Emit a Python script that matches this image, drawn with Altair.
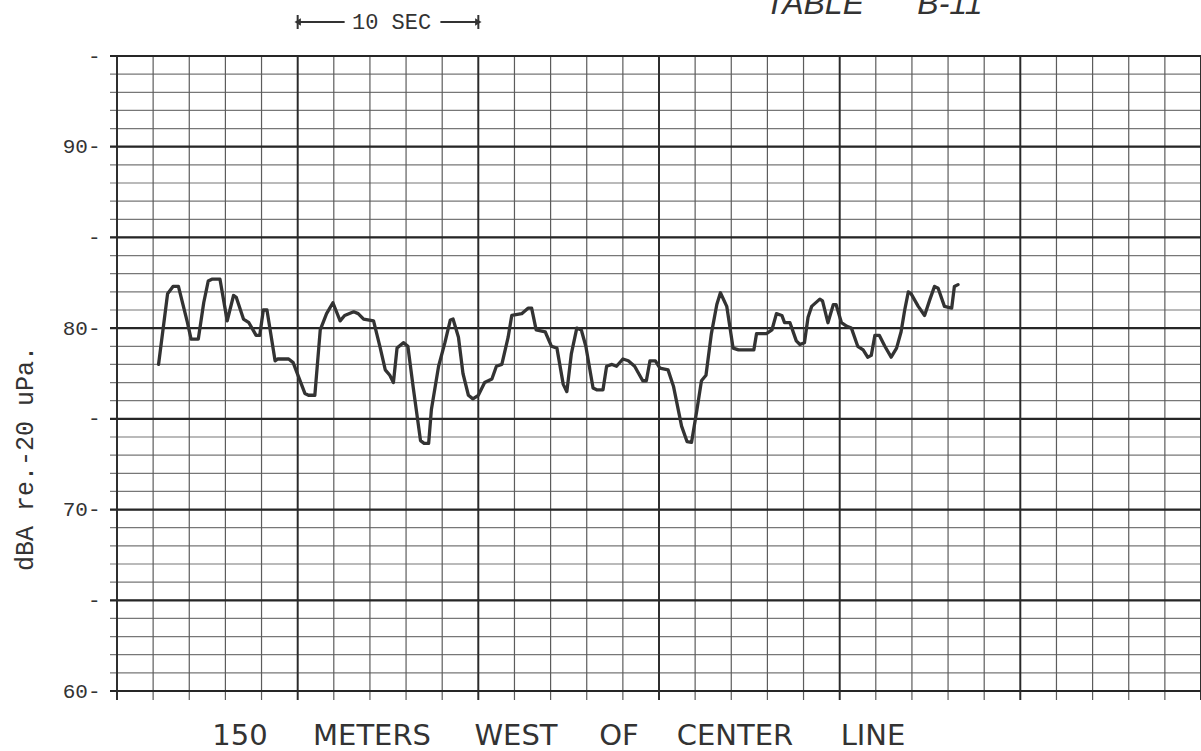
import altair as alt
import pandas as pd

# Recorded sound level trace (seconds from start of strip, dBA)
time_s = [
    2.3, 2.8, 3.1, 3.4, 3.9, 4.1, 4.5, 4.8, 5.05, 5.25, 5.7, 6.1, 6.45, 6.6,
    7.0, 7.3, 7.7, 7.9, 8.1, 8.3, 8.75, 8.9, 9.5, 9.75, 10.4, 10.6, 10.95,
    11.25, 11.6, 11.95, 12.35, 12.6, 13.1, 13.35, 13.65, 14.2, 14.55, 14.85,
    15.1, 15.3, 15.5, 15.85, 16.1, 16.4, 16.8, 17.0, 17.25, 17.4, 17.8, 18.15,
    18.45, 18.6, 18.9, 19.15, 19.45, 19.7, 20.0, 20.35, 20.75, 21.0, 21.3,
    21.65, 21.85, 22.4, 22.75, 22.95, 23.2, 23.7, 24.05, 24.35, 24.7, 24.9,
    25.15, 25.45, 25.7, 25.95, 26.35, 26.55, 26.9, 27.1, 27.4, 27.65, 28.0,
    28.3, 28.65, 29.1, 29.3, 29.5, 29.8, 30.05, 30.5, 30.8, 31.25, 31.55,
    31.8, 32.1, 32.35, 32.6, 32.9, 33.2, 33.4, 33.75, 34.1, 34.4, 35.25,
    35.4, 35.95, 36.25, 36.5, 36.8, 36.95, 37.25, 37.6, 37.8, 38.05, 38.25,
    38.45, 38.9, 39.05, 39.35, 39.65, 39.8, 40.1, 40.4, 40.65, 41.0, 41.3,
    41.55, 41.75, 41.95, 42.2, 42.5, 42.85, 43.15, 43.4, 43.6, 43.8, 43.95,
    44.35, 44.7, 45.0, 45.25, 45.45, 45.8, 46.2, 46.35, 46.55,
]
level_dba = [
    78.0, 81.9, 82.3, 82.3, 80.3, 79.4, 79.4, 81.4, 82.6, 82.7, 82.7, 80.4,
    81.8, 81.7, 80.5, 80.3, 79.6, 79.6, 81.0, 81.0, 78.2, 78.3, 78.3, 78.1,
    76.4, 76.3, 76.3, 79.9, 80.8, 81.4, 80.4, 80.7, 80.9, 80.8, 80.5, 80.4,
    79.0, 77.7, 77.4, 77.0, 78.9, 79.2, 79.0, 76.7, 73.8, 73.65, 73.65, 75.5,
    77.9, 79.2, 80.45, 80.5, 79.5, 77.5, 76.3, 76.1, 76.3, 77.0, 77.2, 77.9,
    78.0, 79.5, 80.7, 80.8, 81.1, 81.1, 79.9, 79.8, 79.0, 78.9, 76.9, 76.5,
    78.6, 80.0, 79.9, 79.0, 76.7, 76.6, 76.6, 77.9, 78.0, 77.9, 78.3, 78.2,
    77.9, 77.1, 77.1, 78.2, 78.2, 77.8, 77.7, 76.8, 74.6, 73.75, 73.7, 75.5,
    77.1, 77.4, 79.7, 81.3, 81.95, 81.2, 78.9, 78.8, 78.8, 79.7, 79.7, 79.9,
    80.8, 80.7, 80.3, 80.3, 79.3, 79.1, 79.2, 80.6, 81.2, 81.6, 81.5, 80.3,
    81.3, 81.3, 80.3, 80.1, 80.0, 79.0, 78.8, 78.4, 78.5, 79.6, 79.6, 79.0,
    78.4, 78.9, 79.8, 81.0, 82.0, 81.9, 81.2, 80.7, 81.6, 82.3, 82.2, 81.2,
    81.1, 82.3, 82.4,
]

# Chart paper rulings
minor_db = list(range(60, 96))          # 1 dB rulings
major_db = list(range(60, 96, 5))       # 5 dB rulings (also the axis ticks)
minor_sec = list(range(0, 61, 2))       # 2 s rulings
major_sec = list(range(0, 61, 10))      # 10 s rulings

# Time-scale bar drawn above the strip
bar_segments_start = [10.0, 17.9]
bar_segments_end = [12.6, 20.0]
bar_ends = [10.0, 20.0]
bar_label = "10 SEC"
bar_label_at = 15.2

NB = "\u00a0"
y_title = "dBA re.-20 uPa."
caption_words = ["150", "METERS", "WEST", "OF", "CENTER", "LINE"]
page_label = "TABLE" + NB * 6 + "B-11"

W, H = 1084, 635
INK = "#333333"
MONO = "Liberation Mono"

# hand-lettered caption: horizontal centre of each word (pixels from plot left)
caption_word_x = [123, 255, 399, 502, 618, 756]

xscale = alt.Scale(domain=[0, 60], nice=False, zero=False)
yscale = alt.Scale(domain=[60, 95], nice=False, zero=False)

# one shared left axis: dashes at every 5 dB, numbers at every 10 dB
y_axis = alt.Axis(
    values=major_db,
    labelExpr="datum.value % 10 == 0 ? datum.value + '-' : '-'",
    ticks=False,
    domain=False,
    grid=False,
    labelPadding=17,
    labelFont=MONO,
    labelFontSize=21,
    labelColor="#333333",
    title=y_title,
    titleFont=MONO,
    titleFontSize=25,
    titleFontWeight="normal",
    titleColor="#333333",
    titleX=-80,
    titleY=402,
    titleAlign="center",
)

h_minor = alt.Chart(pd.DataFrame({"db": minor_db})).mark_rule(
    color="#777777", strokeWidth=1.2
).encode(
    y=alt.Y("db:Q", scale=yscale, axis=y_axis),
    x=alt.value(-7),
    x2=alt.value(W),
)

h_major = alt.Chart(pd.DataFrame({"db": major_db})).mark_rule(
    color="#262626", strokeWidth=2.2
).encode(
    y=alt.Y("db:Q", scale=yscale, axis=y_axis),
    x=alt.value(-7),
    x2=alt.value(W),
)

v_minor = alt.Chart(pd.DataFrame({"t": minor_sec})).mark_rule(
    color="#5c5c5c", strokeWidth=1.2
).encode(
    x=alt.X("t:Q", scale=xscale, axis=None),
    y=alt.value(0),
    y2=alt.value(H + 9),
)

v_major = alt.Chart(pd.DataFrame({"t": major_sec})).mark_rule(
    color="#2a2a2a", strokeWidth=1.9
).encode(
    x=alt.X("t:Q", scale=xscale, axis=None),
    y=alt.value(0),
    y2=alt.value(H + 9),
)

trace_df = pd.DataFrame({"t": time_s, "db": level_dba})
trace = alt.Chart(trace_df).mark_line(
    color=INK, strokeWidth=3.3, strokeJoin="round", strokeCap="round"
).encode(
    x=alt.X("t:Q", scale=xscale, axis=None),
    y=alt.Y("db:Q", scale=yscale, axis=y_axis),
    order="t:Q",
)

bar_df = pd.DataFrame({"t0": bar_segments_start, "t1": bar_segments_end})
bar_lines = alt.Chart(bar_df).mark_rule(color=INK, strokeWidth=2).encode(
    x=alt.X("t0:Q", scale=xscale, axis=None),
    x2="t1:Q",
    y=alt.value(-34),
)

ends_df = pd.DataFrame({"t": bar_ends})
bar_caps = alt.Chart(ends_df).mark_rule(color=INK, strokeWidth=2).encode(
    x=alt.X("t:Q", scale=xscale, axis=None),
    y=alt.value(-41),
    y2=alt.value(-27),
)

heads_df = pd.DataFrame({"t": bar_ends, "dir": ["left", "right"]})
bar_heads = alt.Chart(heads_df).mark_point(
    filled=True, color=INK, size=55, opacity=1
).encode(
    x=alt.X("t:Q", scale=xscale, axis=None),
    y=alt.value(-34),
    shape=alt.Shape(
        "dir:N",
        scale=alt.Scale(domain=["left", "right"], range=["triangle-left", "triangle-right"]),
        legend=None,
    ),
)

bar_text = alt.Chart(pd.DataFrame({"t": [bar_label_at], "label": [bar_label]})).mark_text(
    font=MONO, fontSize=22, color="#333333", baseline="middle", align="center"
).encode(
    x=alt.X("t:Q", scale=xscale, axis=None),
    y=alt.value(-34),
    text="label:N",
)

caption_layers = [
    alt.Chart(pd.DataFrame({"label": [word]})).mark_text(
        font="DejaVu Sans", fontSize=29, color="#333333",
        baseline="alphabetic", align="center",
    ).encode(
        x=alt.value(cx),
        y=alt.value(689),
        text="label:N",
    )
    for word, cx in zip(caption_words, caption_word_x)
]

page_text = alt.Chart(pd.DataFrame({"label": [page_label]})).mark_text(
    font="Liberation Sans", fontSize=32, fontStyle="italic", color="#333333",
    baseline="alphabetic", align="left",
).encode(
    x=alt.value(648),
    y=alt.value(-42),
    text="label:N",
)

chart = alt.layer(
    h_minor, v_minor, h_major, v_major, trace,
    bar_lines, bar_caps, bar_heads, bar_text, *caption_layers, page_text,
).properties(
    width=W,
    height=H,
    autosize=alt.AutoSizeParams(type="none"),
    padding={"left": 117, "top": 56, "right": 0, "bottom": 60},
    background="#ffffff",
).configure_view(stroke=None)

chart.save("out.html", embed_options={"renderer": "svg", "actions": False})
